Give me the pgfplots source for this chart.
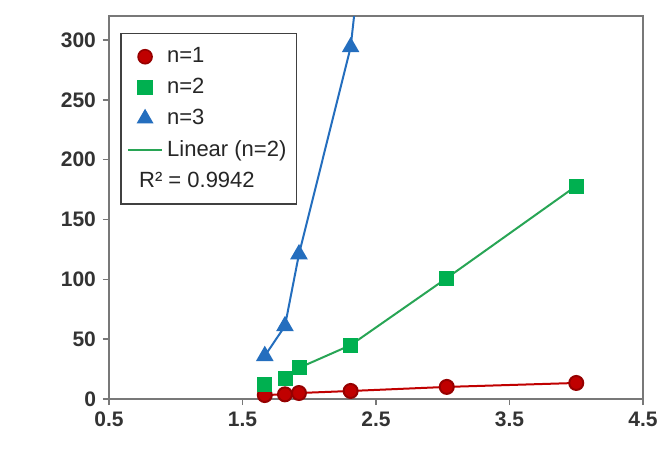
\documentclass[border=0pt]{standalone}
\usepackage{fontspec}
\setmainfont{Liberation Sans}
\usepackage{pgfplots}
\pgfplotsset{compat=1.18}
\definecolor{cred}{RGB}{192,0,0}
\definecolor{credd}{RGB}{150,0,0}
\definecolor{cgreen}{RGB}{0,176,80}
\definecolor{cgline}{RGB}{40,165,85}
\definecolor{cblue}{RGB}{36,110,190}
\definecolor{cbord}{RGB}{120,120,120}
\begin{document}
\begin{tikzpicture}
\begin{axis}[
  scale only axis, width=267pt, height=191.5pt,
  at={(0,0)}, anchor=south west,
  xmin=0.5, xmax=4.5, ymin=0, ymax=320,
  xtick={0.5,1.5,2.5,3.5,4.5}, ytick={0,50,100,150,200,250,300},
  xticklabels={0.5,1.5,2.5,3.5,4.5},
  /pgf/number format/assume math mode=true,
  tick label style={font=\bfseries\fontsize{10.5}{12}\selectfont, text=black!80},
  tick align=outside, tick pos=left,
  major tick length=3pt,
  tick style={cbord, line width=0.8pt},
  axis line style={cbord, line width=1pt},
  legend style={at={(rel axis cs:0.021,0.956)}, anchor=north west,
    draw=black!75, line width=0.8pt, font=\fontsize{11}{13}\selectfont,
    row sep=2.3pt, inner xsep=3pt, inner ysep=5pt, text=black!85},
  legend cell align=left,
  clip=true,
]
% n=1
\addplot[cred, line width=1pt, mark=*, mark size=3.5pt, mark options={fill=cred, draw=credd}, forget plot]
 coordinates {(1.667,3.3) (1.818,3.9) (1.923,5.0) (2.31,6.7) (3.03,10.1) (4.0,13.4)};
% n=2 markers
\addplot[only marks, mark=square*, mark size=3.5pt, mark options={fill=cgreen, draw=cgreen}, forget plot]
 coordinates {(1.667,12) (1.818,17) (1.923,26) (2.31,45) (3.03,101) (4.0,178)};
% n=2 line
\addplot[cgline, line width=1pt, forget plot]
 coordinates {(1.923,26) (2.31,45) (3.03,101) (4.0,178)};
% n=3
\addplot[cblue, line width=1pt, mark=triangle*, mark size=4.1pt, mark options={fill=cblue, draw=cblue}, forget plot]
 coordinates {(1.667,36) (1.818,61) (1.923,121) (2.31,294) (3.03,1015) (4.0,2379)};

\addlegendimage{only marks, mark=*, mark size=3.5pt, mark options={fill=cred, draw=credd}}
\addlegendentry{n=1}
\addlegendimage{only marks, mark=square*, mark size=3.5pt, mark options={fill=cgreen, draw=cgreen}}
\addlegendentry{n=2}
\addlegendimage{only marks, mark=triangle*, mark size=4.1pt, mark options={fill=cblue, draw=cblue}}
\addlegendentry{n=3}
\addlegendimage{cgline, line width=1pt}
\addlegendentry{Linear (n=2)}
\addlegendimage{empty legend}
\addlegendentry{\hspace*{-14pt}R² = 0.9942}

\node[font=\bfseries\fontsize{10.5}{12}\selectfont, text=black!85] at (rel axis cs:-0.142,0.546) {1/V$^{\mathbf{n}}$};
\node[font=\bfseries\fontsize{10.5}{12}\selectfont, text=black!85] at (rel axis cs:0.5,-0.109) {1/A};
\end{axis}
\pgfresetboundingbox
\path[use as bounding box] (-54.5pt,-26.5pt) rectangle (275.5pt,199.5pt);
\end{tikzpicture}
\end{document}
